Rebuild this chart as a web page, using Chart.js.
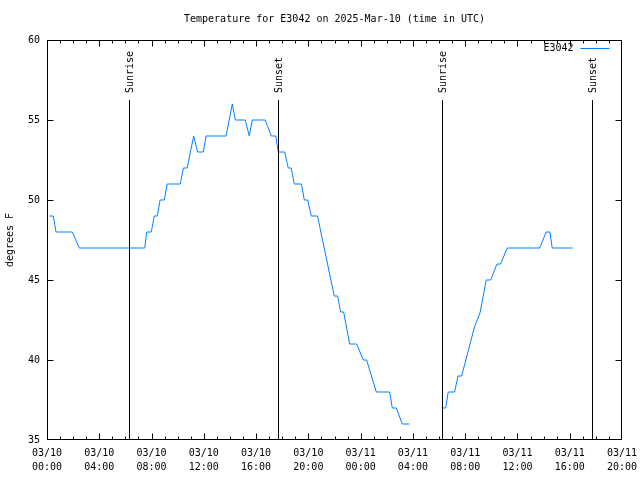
<!DOCTYPE html>
<html>
<head>
<meta charset="utf-8">
<script src="https://cdn.jsdelivr.net/npm/chart.js@4/dist/chart.umd.min.js"></script>
<style>
  html, body { margin: 0; padding: 0; background: #ffffff; }
</style>
</head>
<body>
<canvas id="chart" width="640" height="480"></canvas>
<script>
// hours since 03/10 00:00 UTC
var hours = [0.18, 0.48, 0.69, 1.94, 2.47, 7.48, 7.63, 7.98, 8.21, 8.44, 8.65, 8.97, 9.20,
  10.20, 10.43, 10.73, 11.22, 11.53, 11.96, 12.17, 13.70, 14.18, 14.41, 15.17, 15.48, 15.71,
  16.70, 17.16, 17.50, 17.70, 18.19, 18.46, 18.69, 18.92, 19.47, 19.69, 19.95, 20.22, 20.70,
  21.98, 22.24, 22.47, 22.70, 23.16, 23.70, 24.20, 24.46, 25.20, 26.22, 26.42, 26.73, 27.18,
  27.72, 29.00,
  30.20, 30.51, 30.70, 31.19, 31.45, 31.73, 32.69, 33.15, 33.61, 33.95, 34.43, 34.71, 35.22,
  37.70, 38.20, 38.48, 38.66, 40.22];
var temps = [49, 49, 48, 48, 47, 47, 48, 48, 49, 49, 50, 50, 51,
  51, 52, 52, 54, 53, 53, 54, 54, 56, 55, 55, 54, 55,
  55, 54, 54, 53, 53, 52, 52, 51, 51, 50, 50, 49, 49,
  44, 44, 43, 43, 41, 41, 40, 40, 38, 38, 37, 37, 36,
  36, null,
  37, 37, 38, 38, 39, 39, 42, 43, 45, 45, 46, 46, 47,
  47, 48, 48, 47, 47];

var eventHours = [6.27, 17.67, 30.22, 41.70];
var eventNames = ["Sunrise", "Sunset", "Sunrise", "Sunset"];
var eventTop = 56.25;

var tickHours = [0, 4, 8, 12, 16, 20, 24, 28, 32, 36, 40, 44];
var tickLabels = [
  ["03/10", "00:00"], ["03/10", "04:00"], ["03/10", "08:00"], ["03/10", "12:00"],
  ["03/10", "16:00"], ["03/10", "20:00"], ["03/11", "00:00"], ["03/11", "04:00"],
  ["03/11", "08:00"], ["03/11", "12:00"], ["03/11", "16:00"], ["03/11", "20:00"]
];
var yMin = 35, yMax = 60, yStep = 5;

var FONT = "'DejaVu Sans Mono', 'Liberation Mono', monospace";
var lineColor = "#0080ff";

var points = hours.map(function (h, i) { return { x: h, y: temps[i] }; });

// gnuplot-like frame, inward ticks, sunrise/sunset markers and key
var gnuFrame = {
  id: "gnuFrame",
  afterDatasetsDraw: function (chart) {
    var ctx = chart.ctx, a = chart.chartArea;
    var xs = chart.scales.x, ys = chart.scales.y;
    var L = Math.round(a.left) + 0.5, R = Math.round(a.right) - 0.5;
    var T = Math.round(a.top) + 0.5, B = Math.round(a.bottom) - 0.5;
    ctx.save();
    ctx.strokeStyle = "#000";
    ctx.lineWidth = 1;
    ctx.beginPath();
    ctx.rect(L, T, R - L, B - T);
    // x ticks every hour, longer at labels
    for (var h = 0; h <= 44; h++) {
      var px = Math.min(R, Math.max(L, Math.round(xs.getPixelForValue(h)) + 0.5));
      var len = h % 4 === 0 ? 6 : 3;
      ctx.moveTo(px, B); ctx.lineTo(px, B - len);
      ctx.moveTo(px, T); ctx.lineTo(px, T + len);
    }
    for (var v = yMin; v <= yMax; v += yStep) {
      var py = Math.min(B, Math.max(T, Math.round(ys.getPixelForValue(v)) + 0.5));
      ctx.moveTo(L, py); ctx.lineTo(L + 6, py);
      ctx.moveTo(R, py); ctx.lineTo(R - 6, py);
    }
    ctx.stroke();

    // sunrise / sunset lines
    ctx.beginPath();
    eventHours.forEach(function (eh) {
      var ex = Math.round(xs.getPixelForValue(eh)) + 0.5;
      ctx.moveTo(ex, ys.getPixelForValue(eventTop));
      ctx.lineTo(ex, B);
    });
    ctx.stroke();
    ctx.fillStyle = "#000";
    ctx.font = "10px " + FONT;
    eventHours.forEach(function (eh, i) {
      var ex = Math.round(xs.getPixelForValue(eh)) + 1;
      ctx.save();
      ctx.translate(ex, ys.getPixelForValue(eventTop) - 7);
      ctx.rotate(-Math.PI / 2);
      ctx.textAlign = "left";
      ctx.textBaseline = "middle";
      ctx.fillText(eventNames[i], 0, 0);
      ctx.restore();
    });

    // key
    ctx.textAlign = "right";
    ctx.textBaseline = "middle";
    ctx.fillText("E3042", R - 48, T + 8);
    ctx.strokeStyle = lineColor;
    ctx.beginPath();
    ctx.moveTo(R - 41, T + 8);
    ctx.lineTo(R - 12, T + 8);
    ctx.stroke();
    ctx.restore();
  }
};

new Chart(document.getElementById("chart"), {
  type: "line",
  data: {
    datasets: [{
      label: "E3042",
      data: points,
      borderColor: lineColor,
      borderWidth: 1,
      pointRadius: 0,
      tension: 0,
      spanGaps: false,
      fill: false
    }]
  },
  options: {
    responsive: false,
    animation: false,
    layout: { padding: { top: 0, right: 18, bottom: 0, left: 0 } },
    plugins: {
      legend: { display: false },
      tooltip: { enabled: false },
      title: {
        display: true,
        fullSize: false,
        text: "Temperature for E3042 on 2025-Mar-10 (time in UTC)",
        color: "#000",
        font: { family: FONT, size: 10, weight: "normal", lineHeight: 1.2 },
        padding: { top: 13, bottom: 15 }
      }
    },
    scales: {
      x: {
        type: "linear",
        min: 0,
        max: 44,
        grid: { display: false, drawTicks: false },
        border: { display: false },
        afterFit: function (s) {
          s.height = 40;
          s.paddingLeft = 0;
          s.paddingRight = 0;
        },
        ticks: {
          stepSize: 4,
          autoSkip: false,
          maxRotation: 0,
          padding: 6,
          color: "#000",
          font: { family: FONT, size: 10, lineHeight: 1.4 },
          callback: function (v) {
            var i = tickHours.indexOf(v);
            return i < 0 ? null : tickLabels[i];
          }
        }
      },
      y: {
        min: yMin,
        max: yMax,
        grid: { display: false, drawTicks: false },
        border: { display: false },
        afterFit: function (s) { s.width = 47; },
        title: {
          display: true,
          text: "degrees F",
          color: "#000",
          font: { family: FONT, size: 10, lineHeight: 1.2 },
          padding: { top: 4, bottom: 0 }
        },
        ticks: {
          stepSize: yStep,
          padding: 7,
          color: "#000",
          font: { family: FONT, size: 10 }
        }
      }
    }
  },
  plugins: [gnuFrame]
});
</script>
</body>
</html>
